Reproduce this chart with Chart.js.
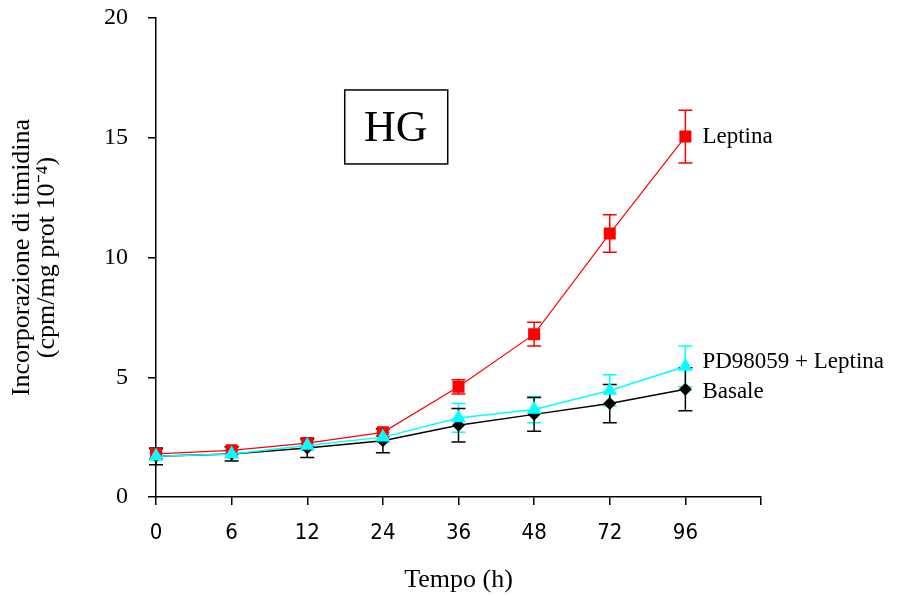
<!DOCTYPE html>
<html>
<head>
<meta charset="utf-8">
<script src="https://cdn.jsdelivr.net/npm/chart.js@4/dist/chart.umd.min.js"></script>
<style>
  html, body { margin: 0; padding: 0; background: #fff; }
  #wrap { width: 900px; height: 596px; }
</style>
</head>
<body>
<div id="wrap"><canvas id="hg"></canvas></div>
<script>
// time points (h); last slot is empty, the axis runs one step past 96
const times = ['0', '6', '12', '24', '36', '48', '72', '96', ''];

const leptina     = [1.8, 1.95, 2.25, 2.7, 4.6, 6.8, 11.0, 15.05];
const leptinaErr  = [0.2, 0.15, 0.15, 0.15, 0.3, 0.5, 0.78, 1.1];
const pdLeptina    = [1.7, 1.8, 2.15, 2.5, 3.3, 3.65, 4.45, 5.45];
const pdLeptinaErr = [0.15, 0.15, 0.2, 0.2, 0.6, 0.55, 0.65, 0.85];
const basale      = [1.7, 1.8, 2.05, 2.35, 3.0, 3.45, 3.9, 4.5];
const basaleErr   = [0.35, 0.3, 0.4, 0.5, 0.7, 0.7, 0.8, 0.9];

const yTicks = [0, 5, 10, 15, 20];

const serif = "'Liberation Serif', 'Times New Roman', serif";
const narrow = "'Liberation Sans Narrow', 'DejaVu Sans Condensed', sans-serif";

// error bars, under the markers
const errorBars = {
  id: 'errorBars',
  beforeDatasetsDraw(chart) {
    const ctx = chart.ctx;
    const y = chart.scales.y;
    chart.data.datasets.forEach((ds, i) => {
      const meta = chart.getDatasetMeta(i);
      ctx.save();
      ctx.strokeStyle = ds.borderColor;
      ctx.lineWidth = 1.5;
      meta.data.forEach((pt, j) => {
        const e = ds.errors[j];
        const top = y.getPixelForValue(ds.data[j] + e);
        const bot = y.getPixelForValue(ds.data[j] - e);
        ctx.beginPath();
        ctx.moveTo(pt.x, top); ctx.lineTo(pt.x, bot);
        ctx.moveTo(pt.x - 7, top); ctx.lineTo(pt.x + 7, top);
        ctx.moveTo(pt.x - 7, bot); ctx.lineTo(pt.x + 7, bot);
        ctx.stroke();
      });
      ctx.restore();
    });
  }
};

// series names next to the last point, plus the HG box
const annotations = {
  id: 'annotations',
  afterDraw(chart) {
    const ctx = chart.ctx;
    ctx.save();
    ctx.fillStyle = '#000';
    ctx.font = '23px ' + serif;
    ctx.textAlign = 'left';
    ctx.textBaseline = 'middle';
    chart.data.datasets.forEach((ds, i) => {
      const meta = chart.getDatasetMeta(i);
      const last = meta.data[meta.data.length - 1];
      ctx.fillText(ds.label, last.x + 17, last.y + ds.labelDy);
    });

    const cx = chart.scales.x.getPixelForValue(3.17);
    const cy = chart.scales.y.getPixelForValue(15.45);
    ctx.lineWidth = 1.5;
    ctx.strokeStyle = '#000';
    ctx.strokeRect(cx - 51, cy - 37, 103, 74);
    ctx.textAlign = 'center';
    ctx.font = '44px ' + serif;
    ctx.fillText('HG', cx, cy + 2);
    ctx.restore();
  }
};

new Chart(document.getElementById('hg'), {
  type: 'line',
  data: {
    labels: times,
    datasets: [
      {
        label: 'Leptina', data: leptina, errors: leptinaErr, labelDy: 0,
        borderColor: '#ff0000', backgroundColor: '#ff0000',
        borderWidth: 1.2, pointStyle: 'rect', pointRadius: 8.5,
        pointBorderWidth: 0, order: 1
      },
      {
        label: 'PD98059 + Leptina', data: pdLeptina, errors: pdLeptinaErr, labelDy: -5,
        borderColor: '#00ffff', backgroundColor: '#00ffff',
        borderWidth: 1.5, pointStyle: 'triangle', pointRadius: 8.5,
        pointBorderWidth: 0, order: 0
      },
      {
        label: 'Basale', data: basale, errors: basaleErr, labelDy: 3,
        borderColor: '#000000', backgroundColor: '#000000',
        borderWidth: 1.5, pointStyle: 'rectRot', pointRadius: 6.5,
        pointBorderWidth: 0, order: 2
      }
    ]
  },
  options: {
    responsive: true,
    maintainAspectRatio: false,
    animation: false,
    layout: { padding: { left: 0, top: 18, right: 139, bottom: 0 } },
    plugins: {
      legend: { display: false },
      tooltip: { enabled: false }
    },
    scales: {
      x: {
        type: 'category',
        offset: false,
        afterFit: (s) => { s.height = 99; },
        grid: { drawOnChartArea: false, drawTicks: true, tickLength: 8, color: '#000', lineWidth: 1.5 },
        border: { color: '#000', width: 1.5 },
        ticks: { color: '#000', padding: 15, maxRotation: 0, autoSkip: false, font: { family: narrow, size: 22 } },
        title: {
          display: true, text: 'Tempo (h)', color: '#000',
          font: { family: serif, size: 26 }, padding: { top: 0, bottom: 0 }
        }
      },
      y: {
        min: 0, max: 20,
        afterFit: (s) => { s.width = 156; s.paddingTop = 0; s.paddingBottom = 0; },
        afterBuildTicks: (s) => { s.ticks = yTicks.map(v => ({ value: v })); },
        grid: { drawOnChartArea: false, drawTicks: true, tickLength: 8, color: '#000', lineWidth: 1.5 },
        border: { color: '#000', width: 1.5 },
        ticks: { color: '#000', padding: 20, font: { family: serif, size: 24 } },
        title: {
          display: true,
          text: ['Incorporazione di timidina', '(cpm/mg prot 10\u207B\u2074)'],
          color: '#000',
          font: { family: serif, size: 26, lineHeight: 0.96 },
          padding: { top: 9.5, bottom: 0 }
        }
      }
    }
  },
  plugins: [errorBars, annotations]
});
</script>
</body>
</html>
